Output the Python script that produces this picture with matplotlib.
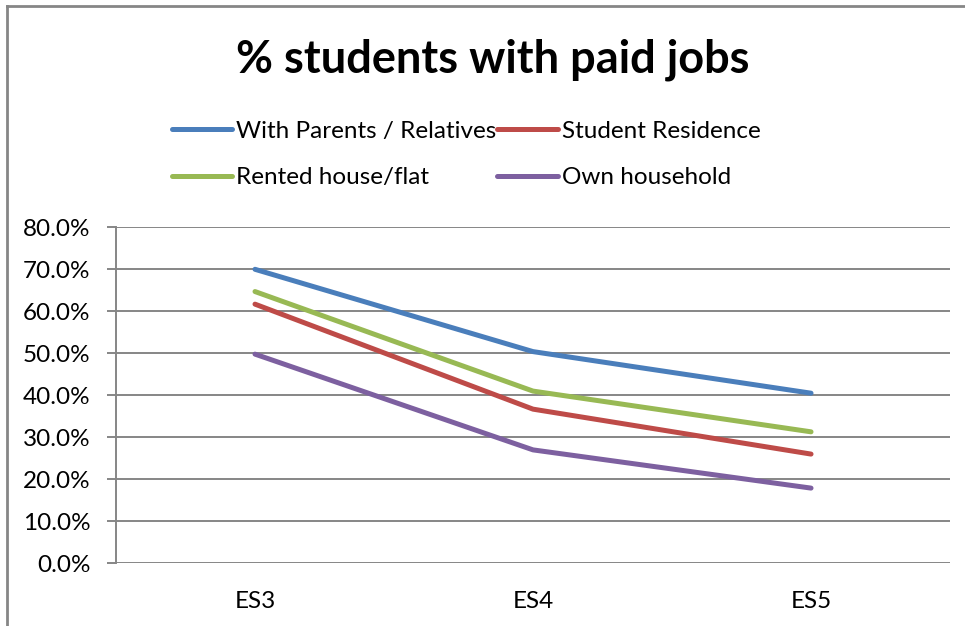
import numpy as np
import matplotlib.pyplot as plt
from matplotlib.ticker import PercentFormatter
from matplotlib.lines import Line2D

plt.rcParams['font.family'] = ['Lato', 'DejaVu Sans']

cats = ['ES3', 'ES4', 'ES5']
parents = [70.0, 50.4, 40.5]
residence = [61.7, 36.7, 26.0]
rented = [64.7, 41.0, 31.3]
own = [49.8, 27.0, 17.9]

names = ['With Parents / Relatives', 'Student Residence', 'Rented house/flat', 'Own household']
colors = ['#4a7ebb', '#be4b48', '#98b954', '#7d60a0']

fig = plt.figure(figsize=(9.65, 6.26), dpi=100)
ax = fig.add_axes([0.1202, 0.1002, 0.8643, 0.5367])

x = np.arange(len(cats))
lines = []
for vals, c in zip([parents, residence, rented, own], colors):
    ln, = ax.plot(x, vals, color=c, lw=3.6, solid_capstyle='round', zorder=3)
    lines.append(ln)

ax.set_xlim(-0.5, 2.5)
ax.set_ylim(0, 80)
ax.set_yticks(np.arange(0, 81, 10))
ax.yaxis.set_major_formatter(PercentFormatter(decimals=1))
ax.set_xticks(x)
ax.set_xticklabels(cats)
ax.grid(axis='y', color='#868686', lw=1.4)
for s in ['top', 'right', 'bottom']:
    ax.spines[s].set_visible(False)
ax.spines['left'].set_color('#868686')
ax.spines['left'].set_linewidth(1.4)
ax.tick_params(axis='y', length=6.5, color='#868686', width=1.4, labelsize=17.5, pad=12)
ax.tick_params(axis='x', length=0, labelsize=17.5, pad=20)

fig.text(0.511, 0.905, '% students with paid jobs', ha='center', va='center',
         fontsize=32.5, fontweight='bold')

# legend order: row1 parents, residence; row2 rented, own
order = [0, 2, 1, 3]
fig.legend([lines[i] for i in order], [names[i] for i in order], ncol=2,
           loc='center', bbox_to_anchor=(0.483, 0.753), frameon=False,
           fontsize=17.5, handlelength=2.5, handletextpad=0.15,
           columnspacing=0.05, labelspacing=1.05)

# chart border
fig.add_artist(Line2D([0.007, 0.007], [0, 0.99], color='#868686', lw=2, transform=fig.transFigure))
fig.add_artist(Line2D([0.007, 1.0], [0.99, 0.99], color='#868686', lw=2, transform=fig.transFigure))

fig.savefig('out.png', dpi=100)
